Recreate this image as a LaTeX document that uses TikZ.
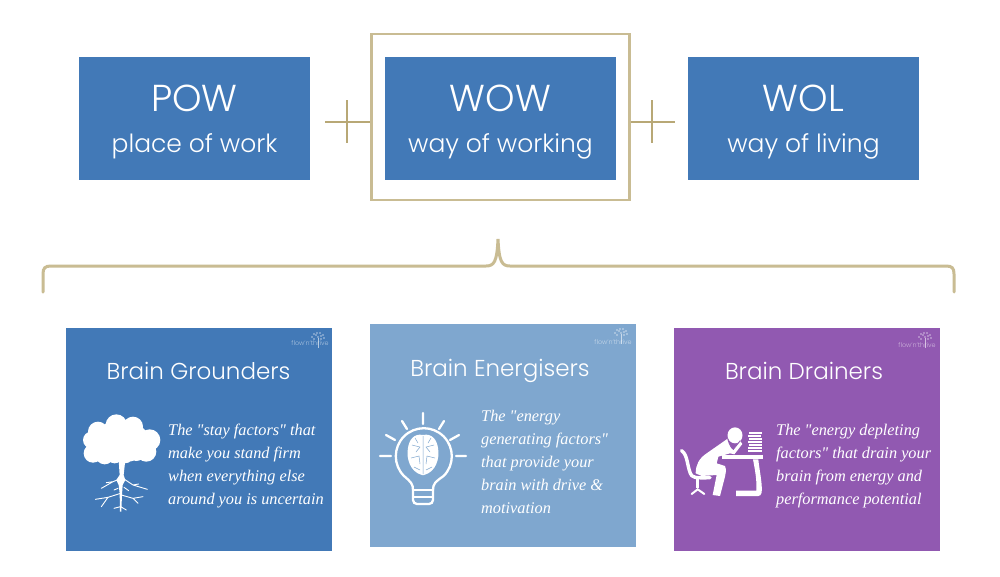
\documentclass[tikz,border=0pt]{standalone}
\usepackage{fontspec}
\setmainfont{Poppins Light}
\newfontfamily\bodyfont{Liberation Serif}
\usepackage{xcolor}
\usetikzlibrary{positioning, calc}
\definecolor{boxblue}  {HTML}{4279B7}
\definecolor{lightblue}{HTML}{7FA7CF}
\definecolor{drainpurple}{HTML}{9159B1}
\definecolor{gold}     {HTML}{C9BC93}
\definecolor{plusgold} {HTML}{B8A876}
\tikzset{
  topbox/.style={fill=boxblue,minimum width=231pt,minimum height=123pt,inner sep=0pt},
  boxhead/.style={text=white,inner sep=0pt,anchor=base,font=\fontsize{37.5}{40}\selectfont},
  boxsub/.style={text=white,inner sep=0pt,anchor=base,font=\fontsize{25}{28}\selectfont},
  card/.style={minimum width=266.5pt,minimum height=223pt,inner sep=0pt},
  cardtitle/.style={text=white,inner sep=0pt,anchor=base,font=\fontsize{23}{28}\selectfont},
  cardbody/.style={text=white,inner sep=0pt,anchor=north west,align=left,font=\bodyfont\itshape\fontsize{16.3}{23}\selectfont},
  logotext/.style={inner sep=0pt,anchor=base,font=\fontsize{6.4}{7}\selectfont},
  goldline/.style={draw=gold,line width=3pt},
  plusline/.style={draw=plusgold,line width=1.3pt},
}
\begin{document}
\begin{tikzpicture}[x=1pt,y=-1pt]
\useasboundingbox(0,0)rectangle(1000,576);
\fill[white](0,0)rectangle(1000,576);
% top row
\node[topbox](pow)at(194.5,118.5){};
\node[topbox](wow)at(500.5,118.5){};
\node[topbox](wol)at(803.5,118.5){};
\node[boxhead](powhead)at(194.5,111){POW};
\node[boxhead](wowhead)at(500.5,111){WOW};
\node[boxhead](wolhead)at(803.5,111){WOL};
\node[boxsub](powsub)at(194.5,152){place of work};
\node[boxsub](wowsub)at(500.5,152){way of working};
\node[boxsub](wolsub)at(803.5,152){way of living};
\node[draw=gold,line width=2.6pt,minimum width=258pt,minimum height=166pt,inner sep=0pt](wowframe)at(500.5,117){};
\coordinate(plusleft)at(325,122);
\coordinate(plusright)at(675,122);
\coordinate(plusleftup)at(347,100);
\coordinate(plusleftdown)at(347,143);
\coordinate(plusrightup)at(652,100);
\coordinate(plusrightdown)at(652,143);
\draw[plusline](plusleft)--(wowframe.west|-plusleft);
\draw[plusline](plusleftup)--(plusleftdown);
\draw[plusline](wowframe.east|-plusright)--(plusright);
\draw[plusline](plusrightup)--(plusrightdown);
% brace
\draw[goldline,line cap=round](43,292)--(43,274)..controls(43,268)and(45,266)..(51,266)--(486,266)
  ..controls(494,266)and(497,262)..(498,239)..controls(499,262)and(502,266)..(510,266)
  --(946,266)..controls(952,266)and(954,268)..(954,274)--(954,292);
% cards
\node[card,fill=boxblue](grounders)at(199,439.5){};
\node[card,fill=lightblue](energisers)at(502.75,435.5){};
\node[card,fill=drainpurple](drainers)at(806.75,439.5){};
\node[cardtitle](groundertitle)at(198.5,379){Brain Grounders};
\node[cardtitle](energisertitle)at(500,376){Brain Energisers};
\node[cardtitle](drainertitle)at(804,379){Brain Drainers};
\node[cardbody](grounderbody)at(168,424){The "stay factors" that\\make you stand firm\\when everything else\\around you is uncertain};
\node[cardbody](energiserbody)at(481,410){The "energy\\generating factors"\\that provide your\\brain with drive \&\\motivation};
\node[cardbody](drainerbody)at(776,424){The "energy depleting\\factors" that drain your\\brain from energy and\\performance potential};
% small logos
\node[logotext,text=white,opacity=.55](grounderlogo)at(310,345){flow'n'thrive};
\node[logotext,text=white,opacity=.55](energiserlogo)at(613,344){flow'n'thrive};
\node[logotext,text=white,opacity=.55](drainerlogo)at(917,347){flow'n'thrive};
\foreach \lx/\ly in {318/338,621/334,925/338}{
  \fill[white,opacity=.6](\lx-.5,\ly)rectangle(\lx+.5,\ly+10);
  \foreach \dx/\dy in {-6/-1,-4/-4,-1/-5,2/-5,5/-3,6/0,-4/1,0/-1,3/1,-2/-3,3/-2}
    \fill[white,opacity=.6](\lx+\dx,\ly+\dy)circle(.8);
}
% tree
\begin{scope}[shift={(78,410)},x=.3333pt,y=-.3333pt]
\fill[white](60,65)circle(30)(115,45)circle(32)(165,50)circle(30)(215,90)circle(32)(205,125)circle(30)
  (45,130)circle(28)(40,90)circle(25)(100,100)circle(50)(150,110)circle(45)(80,135)circle(28)(140,130)circle(30)
  (70,100)circle(40)(170,85)circle(40)(195,105)circle(30)(110,70)circle(40)(165,70)circle(30)(65,120)circle(35)(110,135)circle(25)(175,125)circle(28);
\fill[white](122,150)--(142,150)--(137,195)--(142,210)--(134,225)--(132,255)--(130,305)--(126,305)--(125,250)--(122,225)--(115,210)--(125,195)--cycle;
\draw[white,line width=.9pt,line cap=round]
  (130,205)--(105,215)--(70,235)(105,215)--(85,218)(135,205)--(165,225)--(208,238)(165,225)--(182,222)
  (128,250)--(90,262)--(52,268)(90,262)--(70,290)(130,255)--(165,265)--(195,260)(165,265)--(180,280)
  (128,290)--(108,295)(128,290)--(145,300)(120,235)--(108,240)(138,232)--(152,242);
\end{scope}
% bulb
\draw[white,line width=2.3pt,line cap=round,line join=round]
  (413,490)..controls(413,484)and(411,482)..(404,476)arc(135:405:28)..controls(435,482)and(433,484)..(433,490);
\draw[white,line width=2.3pt,line cap=round,rounded corners=4pt](413,490)--(413,504)--(433,504)--(433,490);
\draw[white,line width=1.8pt](413,490)--(433,490)(413,497)--(433,497);
\draw[white,line width=2.3pt,line cap=round]
  (423,413)--(423,424)(402,421)--(407,429)(444,421)--(439,429)(386,435)--(395,440)(459,435)--(450,440)
  (380,456)--(391,456)(466,456)--(456,456);
\fill[white](423,435)..controls(414,433)and(409,440)..(408,448)..controls(406,458)and(410,472)..(422,475)--(424,475)
  ..controls(436,472)and(440,458)..(438,448)..controls(437,440)and(432,433)..(423,435)--cycle;
\draw[lightblue,line width=.5pt](423,436)--(423,474)(412,445)--(420,447)--(416,452)(434,445)--(426,447)--(430,452)
  (411,458)--(419,456)--(420,464)(435,458)--(427,456)--(426,464)(415,438)--(418,443)(431,438)--(428,443)(414,467)--(420,470)(432,467)--(426,470);
% desk figure
\begin{scope}[shift={(675,420)},x=.3333pt,y=-.3333pt]
\draw[white,line width=3.4pt,line cap=round,line join=round](20,92)..controls(38,105)and(36,135)..(46,160)..controls(50,172)and(60,175)..(105,173);
\draw[white,line width=2.4pt](68,178)--(68,205);
\draw[white,line width=2pt,line cap=round](50,222)--(68,208)--(88,222);
\fill[white](180,46)ellipse(22.5 and 24);
\fill[white](62,160)..controls(62,135)and(72,115)..(95,100)--(158,56)..controls(163,75)and(170,85)..(175,88)--(195,62)--(202,72)--(178,103)--(165,100)--(130,110)--(125,130)
  --(150,138)..controls(155,150)and(152,160)..(150,170)--(135,228)--(113,225)--(125,165)--(80,168)--cycle;
\draw[drainpurple,line width=.9pt](158,56)..controls(163,75)and(170,85)..(175,88)--(196,62);
\fill[white](140,105)rectangle(265,118);
\fill[white](234,118)..controls(240,150)and(246,180)..(244,212)--(183,212)--(183,228)--(250,228)..controls(260,228)and(262,215)..(260,195)..controls(258,170)and(252,140)..(250,118)--cycle;
\foreach \by/\bx/\bw in {35/222/38,44/219/40,53/222/38,62/219/43,71/221/40,80/218/44,89/220/42}
  \fill[white](\bx,\by)rectangle++(\bw,7.6);
\end{scope}
\end{tikzpicture}
\end{document}
